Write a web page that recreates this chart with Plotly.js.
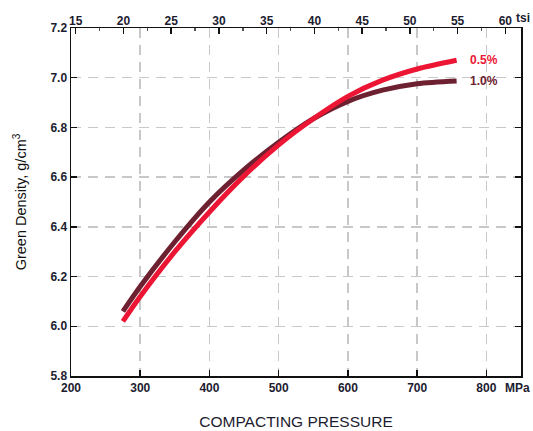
<!DOCTYPE html>
<html>
<head>
<meta charset="utf-8">
<script src="https://cdn.plot.ly/plotly-3.0.1.min.js"></script>
<style>html,body{margin:0;padding:0;background:#fff;}#chart{width:533px;height:431px;}</style>
</head>
<body>
<div id="chart"></div>
<script>
// Data
const pressureMPa = [275, 300, 350, 400, 450, 500, 550, 600, 650, 700, 757];
const density05 = [6.02, 6.12, 6.30, 6.46, 6.605, 6.73, 6.835, 6.925, 6.99, 7.035, 7.07];
const density10 = [6.06, 6.16, 6.34, 6.50, 6.63, 6.74, 6.835, 6.905, 6.95, 6.976, 6.987];
const seriesNames = ["0.5%", "1.0%"];
const mpaTicks = [200, 300, 400, 500, 600, 700, 800];
const tsiTicks = [15, 20, 25, 30, 35, 40, 45, 50, 55, 60];
const yTicks = [5.8, 6.0, 6.2, 6.4, 6.6, 6.8, 7.0, 7.2];
const MPA_PER_TSI = 13.7895;

const red = "#ec1534";
const maroon = "#6d2030";
const FONT = "Liberation Sans, Arial, sans-serif";
const tickFont = {family: FONT, size: 12, color: "#1c1c30", weight: "bold"};

const traces = [
  {x: pressureMPa, y: density10, mode: "lines", name: seriesNames[1],
   line: {color: maroon, width: 5, shape: "spline", smoothing: 0.8}, xaxis: "x", yaxis: "y"},
  {x: pressureMPa, y: density05, mode: "lines", name: seriesNames[0],
   line: {color: red, width: 5, shape: "spline", smoothing: 0.8}, xaxis: "x", yaxis: "y"},
  // invisible trace to activate the top tsi axis
  {x: [200 / MPA_PER_TSI, 850 / MPA_PER_TSI], y: [5.8, 5.8], mode: "lines",
   line: {width: 0}, hoverinfo: "skip", showlegend: false, xaxis: "x2", yaxis: "y", opacity: 0}
];

const lastX = pressureMPa[pressureMPa.length - 1];
const layout = {
  width: 533, height: 431,
  margin: {l: 71, r: 12, t: 28, b: 55},
  paper_bgcolor: "#fff", plot_bgcolor: "#fff",
  showlegend: false,
  xaxis: {
    range: [200, 850], tickvals: mpaTicks, ticktext: mpaTicks.map(String),
    ticks: "inside", ticklen: 6, tickwidth: 1.5, tickcolor: "#111",
    showline: true, linecolor: "#111", linewidth: 1.5, mirror: true,
    showgrid: true, gridcolor: "#c8c8c8", gridwidth: 1.5, griddash: "10px,7px",
    zeroline: false, tickfont: tickFont,
    title: {text: "COMPACTING PRESSURE", font: {family: FONT, size: 15.5, color: "#1c1c30"}, standoff: 22}
  },
  xaxis2: {
    overlaying: "x", side: "top", anchor: "y",
    range: [200 / MPA_PER_TSI, 850 / MPA_PER_TSI], tickvals: tsiTicks, ticktext: tsiTicks.map(String),
    ticks: "inside", ticklen: 6, tickwidth: 1.5, tickcolor: "#111",
    minor: {dtick: 2.5, ticks: "inside", ticklen: 3, tickcolor: "#555", tick0: 15},
    showgrid: false, zeroline: false, tickfont: tickFont, showline: false
  },
  yaxis: {
    range: [5.8, 7.2], tickvals: yTicks, ticktext: yTicks.map(v => v.toFixed(1)),
    ticks: "inside", ticklen: 6, tickwidth: 1.5, tickcolor: "#111",
    showline: true, linecolor: "#111", linewidth: 1.5, mirror: "ticks",
    showgrid: true, gridcolor: "#c8c8c8", gridwidth: 1.5, griddash: "10px,7px",
    zeroline: false, tickfont: tickFont,
    title: {text: "Green Density, g/cm<sup>3</sup>", font: {family: FONT, size: 14.5, color: "#111"}, standoff: 20}
  },
  annotations: [
    {x: lastX + 17, y: density05[density05.length - 1], xref: "x", yref: "y", text: "<b>" + seriesNames[0] + "</b>",
     showarrow: false, xanchor: "left", font: {family: FONT, size: 12, color: red}},
    {x: lastX + 17, y: density10[density10.length - 1], xref: "x", yref: "y", text: "<b>" + seriesNames[1] + "</b>",
     showarrow: false, xanchor: "left", font: {family: FONT, size: 12, color: maroon}},
    {x: 1, y: 0, xref: "paper", yref: "paper", text: "<b>MPa</b>", showarrow: false,
     xanchor: "right", yanchor: "top", xshift: 11, yshift: -3, font: {family: FONT, size: 12, color: "#1c1c30"}},
    {x: 1, y: 1, xref: "paper", yref: "paper", text: "<b>tsi</b>", showarrow: false,
     xanchor: "right", yanchor: "bottom", xshift: 11, yshift: 1, font: {family: FONT, size: 12, color: "#1c1c30"}}
  ]
};

Plotly.newPlot("chart", traces, layout, {displayModeBar: false, staticPlot: true});
</script>
</body>
</html>
